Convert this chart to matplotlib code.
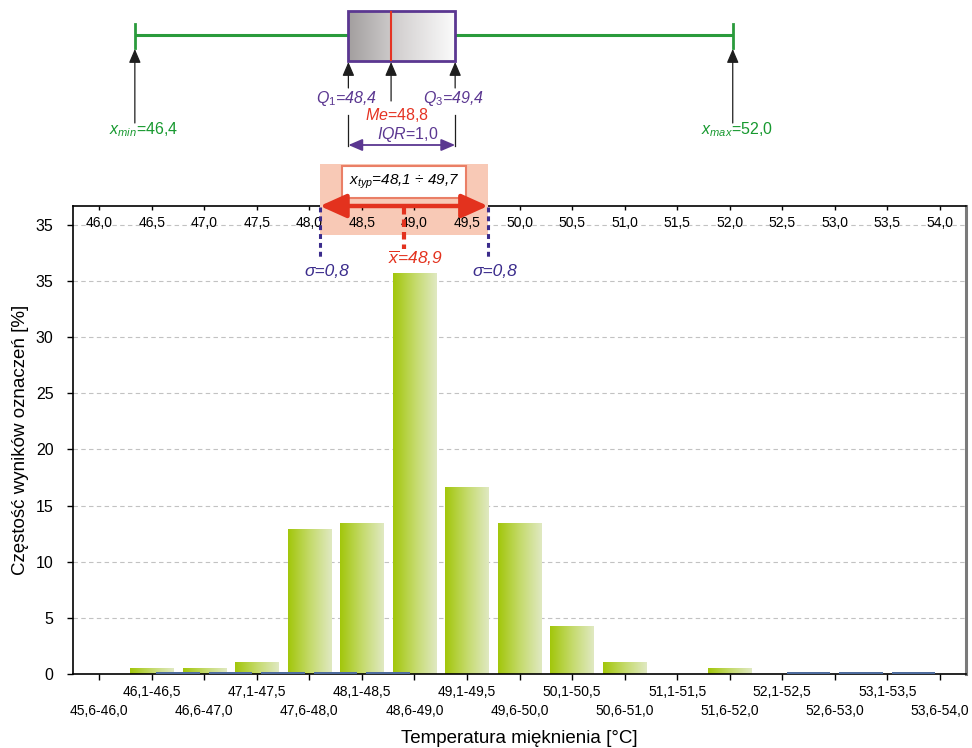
import numpy as np
import matplotlib
matplotlib.use("Agg")
import matplotlib.pyplot as plt
import matplotlib.transforms as mtransforms
from matplotlib.patches import Rectangle, FancyArrowPatch
from matplotlib.colors import LinearSegmentedColormap
from matplotlib import font_manager

# ---------------- data ----------------
classes = ["45,6-46,0", "46,1-46,5", "46,6-47,0", "47,1-47,5", "47,6-48,0",
           "48,1-48,5", "48,6-49,0", "49,1-49,5", "49,6-50,0", "50,1-50,5",
           "50,6-51,0", "51,1-51,5", "51,6-52,0", "52,1-52,5", "52,6-53,0",
           "53,1-53,5", "53,6-54,0"]
share = [0.0, 0.5, 0.5, 1.0, 12.9, 13.4, 35.7, 16.6, 13.4, 4.2, 1.0, 0.0, 0.5,
         0.0, 0.0, 0.0, 0.0]
baseline_marks = [0.0, 0.2, 0.2, 0.2, 0.2, 0.2, 0.0, 0.0, 0.0, 0.0, 0.0, 0.0,
                  0.0, 0.2, 0.2, 0.2, 0.0]
temp_ticks = [46.0, 46.5, 47.0, 47.5, 48.0, 48.5, 49.0, 49.5, 50.0, 50.5,
              51.0, 51.5, 52.0, 52.5, 53.0, 53.5, 54.0]
y_ticks = [0, 5, 10, 15, 20, 25, 30, 35, 40]
y_tick_labels = ["0", "5", "10", "15", "20", "25", "30", "35", "35"]

x_min, q1, median, q3, x_max = 46.4, 48.4, 48.8, 49.4, 52.0
iqr = 1.0
mean, sigma = 48.9, 0.8
typ_low, typ_high = 48.1, 49.7

# ---------------- fonts ----------------
names = {f.name for f in font_manager.fontManager.ttflist}
NARROW = "Liberation Sans Narrow" if "Liberation Sans Narrow" in names else "Liberation Sans"
REG = "Liberation Sans"
plt.rcParams["font.family"] = [NARROW, REG, "DejaVu Sans"]
plt.rcParams["mathtext.fontset"] = "custom"
plt.rcParams["mathtext.it"] = NARROW + ":italic"
plt.rcParams["mathtext.rm"] = NARROW
plt.rcParams["mathtext.sf"] = NARROW

W, H = 972, 748
fig = plt.figure(figsize=(W / 100, H / 100), dpi=100)
fig.patch.set_facecolor("white")

# pixel-from-top vertical coordinate used for annotations
px_top = mtransforms.Affine2D().scale(1 / W, -1 / H).translate(0, 1) + fig.transFigure

# ---------------- histogram ----------------
ax = fig.add_axes([73 / W, 74 / H, 893 / W, 468 / H])
x = np.arange(len(classes))
bar_w = 0.83
bar_cmap = LinearSegmentedColormap.from_list("bar", ["#a2c60a", "#c4da6a", "#e0e9c2"])
grad = np.linspace(0, 1, 256).reshape(1, -1)

bars = ax.bar(x, share, width=bar_w, color="none", edgecolor="none", zorder=2)
for b in bars:
    h = b.get_height()
    if h <= 0:
        continue
    x0 = b.get_x()
    ax.imshow(grad, extent=(x0, x0 + b.get_width(), 0, h), cmap=bar_cmap,
              aspect="auto", interpolation="bicubic", zorder=2)

ax.bar(x + 0.5, baseline_marks, width=bar_w, color="#4e6c9e", zorder=3)

ax.set_xlim(-0.5, 16.5)
ax.set_ylim(0, 41.68)
ax.set_yticks(y_ticks)
ax.set_yticklabels(y_tick_labels, fontfamily=REG, fontsize=11.5)
ax.tick_params(axis="y", direction="out", length=4, width=1, pad=10)
ax.yaxis.grid(True, linestyle=(0, (4, 3)), color="#c2c2c2", linewidth=0.8)
ax.set_axisbelow(True)

ax.set_xticks(x)
ax.set_xticklabels(classes, fontsize=10)
ax.tick_params(axis="x", direction="out", length=4, width=1)
for i, t in enumerate(ax.xaxis.get_major_ticks()):
    t.set_pad(17.5 if i % 2 == 0 else 4)

for s in ("left", "bottom", "top"):
    ax.spines[s].set_linewidth(1.2)
    ax.spines[s].set_color("black")
ax.spines["right"].set_linewidth(2.2)
ax.spines["right"].set_color("#7a7a7a")

ax.set_xlabel("Temperatura mięknienia [°C]", fontsize=13.5, labelpad=9)
ax.set_ylabel("Częstość wyników oznaczeń [%]", fontsize=13.5, labelpad=5)

# ---------------- temperature axis on top ----------------
ax2 = ax.twiny()
ax2.set_xlim(45.75, 54.25)
ax2.set_xticks(temp_ticks)
ax2.set_xticklabels([f"{t:.1f}".replace(".", ",") for t in temp_ticks],
                    fontfamily=REG, fontsize=10)
ax2.tick_params(axis="x", direction="in", length=3, width=1, pad=-17)
for s in ax2.spines.values():
    s.set_visible(False)

ann = mtransforms.blended_transform_factory(ax2.transData, px_top)
RED = "#e3321e"
PURPLE = "#5b3791"
SIGMA = "#3b2c8c"
GREEN = "#17992f"

ax2.add_patch(Rectangle((typ_low, 164), typ_high - typ_low, 71, transform=ann,
                        facecolor="#f8c9b6", edgecolor="none", clip_on=False, zorder=1))
ax2.text((typ_low + typ_high) / 2, 182, r"$x_{typ}$=48,1 ÷ 49,7", transform=ann,
         ha="center", va="center", fontsize=11, style="italic", color="black",
         clip_on=False, zorder=4,
         bbox=dict(boxstyle="square,pad=0.45", facecolor="white",
                   edgecolor="#ea7f66", linewidth=1.5))

for v in (typ_low, typ_high):
    ax2.plot([v, v], [207, 258], transform=ann, color=SIGMA, lw=2.2,
             linestyle=(0, (1.6, 1.3)), clip_on=False, zorder=3)
    ax2.annotate(f"σ={sigma:.1f}".replace(".", ","), xy=(v, 272), xycoords=ann,
                 xytext=(5, 0), textcoords="offset points", ha="center", va="center",
                 fontsize=12.5, style="italic", color=SIGMA, annotation_clip=False)

ax2.plot([mean, mean], [207, 249], transform=ann, color=RED, lw=3,
         linestyle=(0, (1.8, 1.2)), clip_on=False, zorder=3)
ax2.annotate(r"$\overline{x}$" + f"={mean:.1f}".replace(".", ","), xy=(mean, 258),
             xycoords=ann, xytext=(8, 0), textcoords="offset points", ha="center",
             va="center", fontsize=12.5, style="italic", color=RED,
             annotation_clip=False)

ax2.add_patch(FancyArrowPatch((typ_low, 206), (typ_high, 206), transform=ann,
                              arrowstyle="<|-|>,head_length=1.0,head_width=0.45",
                              mutation_scale=16, lw=3.2, color=RED,
                              shrinkA=0, shrinkB=0, clip_on=False, zorder=5))

# ---------------- box plot ----------------
bx = fig.add_axes([0, 1 - 160 / H, 1, 160 / H])
bx.axis("off")

box_cmap = LinearSegmentedColormap.from_list("box", ["#a29e9e", "#d6d3d3", "#fbfbfb"])
bx.imshow(grad, extent=(q1, q3, 61, 11), cmap=box_cmap, aspect="auto",
          interpolation="bicubic", zorder=1)
bx.add_patch(Rectangle((q1, 11), q3 - q1, 50, facecolor="none", edgecolor=PURPLE,
                       linewidth=2, zorder=3))
bx.plot([median, median], [12, 60], color="#e53323", lw=1.5, zorder=3)
bx.plot([x_min, q1], [35, 35], color="#2a9b3c", lw=2.2, zorder=2, solid_capstyle="butt")
bx.plot([q3, x_max], [35, 35], color="#2a9b3c", lw=2.2, zorder=2, solid_capstyle="butt")
for v in (x_min, x_max):
    bx.plot([v, v], [24, 48], color="#2a9b3c", lw=2, zorder=2)
bx.set_xlim(45.137, 54.241)
bx.set_ylim(160, 0)

arrow_kw = dict(arrowstyle="-|>,head_length=0.7,head_width=0.3", color="#1e1e1e",
                lw=0.9, mutation_scale=12, shrinkA=0, shrinkB=0)
for v, y0, y1 in ((x_min, 123, 49), (x_max, 123, 49), (q1, 88, 62),
                  (median, 101, 62), (q3, 88, 62)):
    bx.annotate("", xy=(v, y1), xytext=(v, y0), arrowprops=arrow_kw,
                annotation_clip=False)

lab_kw = dict(textcoords="offset points", ha="center", va="center", fontsize=11.5,
              annotation_clip=False)
bx.annotate(r"$x_{min}$" + f"={x_min:.1f}".replace(".", ","), xy=(x_min, 130),
            xytext=(6, 0), color=GREEN, **lab_kw)
bx.annotate(r"$x_{max}$" + f"={x_max:.1f}".replace(".", ","), xy=(x_max, 130),
            xytext=(3, 0), color=GREEN, **lab_kw)
bx.annotate(r"$Q_1$" + f"={q1:.1f}".replace(".", ","), xy=(q1, 98), xytext=(-1, 0),
            color=PURPLE, style="italic", **lab_kw)
bx.annotate(r"$Q_3$" + f"={q3:.1f}".replace(".", ","), xy=(q3, 98), xytext=(-1, 0),
            color=PURPLE, style="italic", **lab_kw)
bx.annotate(r"$Me$" + f"={median:.1f}".replace(".", ","), xy=(median, 115),
            xytext=(4, 0), color="#e53323", **lab_kw)
bx.annotate(r"$IQR$" + f"={iqr:.1f}".replace(".", ","), xy=((q1 + q3) / 2, 134),
            xytext=(4, 0), color=PURPLE, **lab_kw)

for v in (q1, q3):
    bx.plot([v, v], [115, 146], color="#1e1e1e", lw=0.9)
bx.add_patch(FancyArrowPatch((q1, 145), (q3, 145),
                             arrowstyle="<|-|>,head_length=0.7,head_width=0.3",
                             mutation_scale=12, lw=1.3, color=PURPLE,
                             shrinkA=0, shrinkB=0, clip_on=False))

fig.savefig("out.png", dpi=100, facecolor="white")
